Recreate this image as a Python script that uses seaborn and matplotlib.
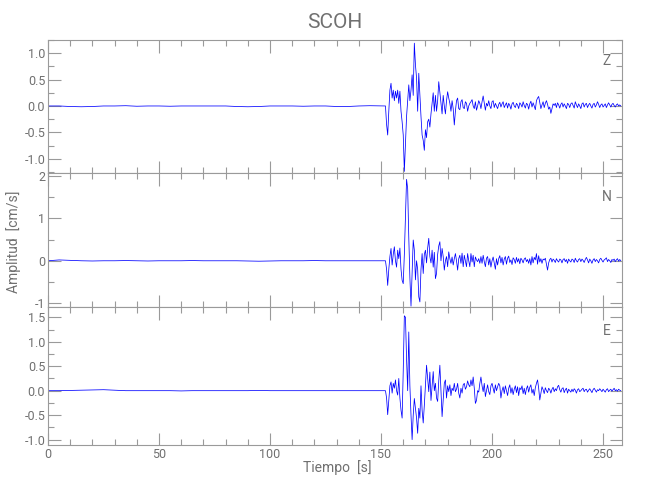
import numpy as np
import matplotlib
matplotlib.use("Agg")
import matplotlib.pyplot as plt
import seaborn as sns
from matplotlib.ticker import MultipleLocator, FormatStrFormatter

# --------------------------------------------------------------------------
# datos (velocidad en cm/s)
# --------------------------------------------------------------------------
pre_dt = 5.0       # tramo antes del evento, un valor cada 5 s desde t = 0
ev_t0 = 151.0      # inicio del tramo del evento
ev_dt = 0.5        # muestreo del tramo del evento

z_pre = [0.0, 0.0, -0.01, -0.015, -0.01, 0.0, 0.0, 0.005, -0.005, 0.0,
         0.0, -0.005, 0.0, 0.0, 0.0, 0.0, 0.0, -0.01, -0.015, -0.01,
         0.0, 0.0, 0.0, -0.005, 0.0, 0.0, -0.01, -0.01, 0.0, 0.005, 0.0]
n_pre = [0.0, 0.02, 0.01, 0.0, -0.005, 0.0, 0.0, 0.005, 0.0, -0.005,
         0.0, 0.0, 0.0, 0.005, 0.0, 0.0, 0.0, 0.0, -0.005, -0.01,
         -0.005, 0.0, 0.0, 0.0, 0.005, 0.0, 0.0, 0.0, 0.0, 0.0, 0.0]
e_pre = [0.0, 0.0, 0.005, 0.01, 0.015, 0.02, 0.01, 0.0, 0.0, 0.0,
         0.0, 0.0, -0.005, 0.0, 0.0, 0.0, 0.0, 0.0, 0.0, 0.005,
         0.0, 0.0, 0.0, 0.0, 0.0, 0.0, 0.0, 0.0, 0.0, 0.0, 0.0]

z_ev = [0.0, 0.0, 0.0, -0.35, -0.55, -0.1, 0.3, 0.43, 0.15, 0.3,
        0.1, 0.28, 0.15, 0.3, 0.05, 0.28, -0.1, -0.3, -0.55, -1.24,
        -0.74, -0.2, 0.1, 0.4, 0.1, 0.3, 0.59, 0.2, 1.19, 0.78,
        0.53, -0.1, 0.62, 0.2, -0.2, -0.55, -0.65, -0.84, -0.45, -0.6,
        -0.3, -0.25, -0.4, -0.15, 0.05, 0.25, -0.1, 0.2, -0.1, 0.1,
        0.46, 0.25, 0.05, -0.15, 0.2, 0.0, -0.15, 0.1, 0.27, 0.15,
        0.05, -0.1, 0.1, -0.05, -0.36, -0.1, 0.1, 0.15, -0.05, -0.07,
        0.08, 0.12, -0.03, -0.05, 0.08, 0.05, -0.1, 0.0, 0.05, 0.08,
        0.12, 0.0, -0.05, 0.08, -0.08, 0.0, 0.1, 0.05, -0.05, 0.08,
        0.19, 0.05, -0.08, 0.05, 0.0, 0.1, 0.0, -0.05, 0.08, 0.1,
        -0.03, 0.05, 0.0, -0.05, 0.03, 0.07, -0.02, 0.04, 0.08, -0.03,
        0.02, 0.06, -0.04, 0.05, 0.01, -0.06, 0.04, 0.07, 0.0, -0.03,
        0.05, 0.02, -0.05, 0.06, 0.03, -0.02, 0.08, 0.01, -0.04, 0.05,
        0.03, -0.06, 0.04, 0.09, -0.02, 0.06, 0.0, -0.07, 0.1, 0.15,
        0.18, 0.06, -0.05, 0.02, 0.08, -0.03, 0.05, 0.1, 0.03, -0.06,
        -0.02, -0.14, -0.05, 0.04, 0.01, 0.05, -0.03, 0.06, 0.02, -0.04,
        0.03, 0.06, -0.02, 0.04, 0.0, -0.05, 0.05, 0.03, -0.03, 0.04,
        0.06, 0.01, -0.04, 0.08, 0.02, -0.03, 0.04, 0.0, -0.05, 0.04,
        0.06, -0.02, 0.03, 0.05, -0.03, 0.02, 0.05, 0.0, -0.04, 0.03,
        0.05, -0.02, 0.02, 0.08, 0.03, -0.03, 0.02, 0.04, -0.02, 0.01,
        0.04, -0.03, 0.02, 0.06, 0.02, -0.02, 0.03, 0.05, 0.01, -0.02,
        0.02, 0.04, 0.0, 0.02, 0.0]

n_ev = [0.0, 0.0, 0.0, -0.2, -0.58, -0.2, 0.1, 0.29, -0.1, 0.15,
        0.33, 0.0, -0.15, 0.25, 0.05, 0.3, -0.2, -0.46, -0.54, 0.15,
        1.0, 1.92, 1.7, 0.55, -0.4, -1.07, -0.25, 0.49, 0.25, -0.45,
        0.0, -0.2, -0.85, -0.97, -0.2, 0.17, -0.3, 0.15, 0.25, -0.05,
        0.3, 0.53, 0.1, -0.05, 0.25, -0.15, 0.2, -0.42, -0.3, 0.15,
        0.35, 0.45, 0.0, 0.29, 0.1, -0.22, 0.0, 0.1, -0.14, 0.21,
        0.05, -0.06, 0.09, -0.1, 0.05, 0.17, 0.0, -0.22, 0.05, 0.13,
        -0.06, 0.18, -0.14, 0.13, 0.0, -0.14, 0.17, 0.0, -0.14, 0.17,
        -0.03, 0.13, -0.14, 0.09, 0.02, -0.02, 0.05, -0.06, 0.1, -0.06,
        0.13, -0.02, -0.14, 0.06, 0.1, -0.1, 0.05, -0.15, 0.0, 0.09,
        -0.05, -0.2, 0.05, -0.1, 0.05, 0.12, -0.05, 0.08, -0.1, 0.04,
        0.1, -0.08, 0.06, 0.11, -0.04, 0.02, -0.09, 0.07, 0.03, -0.06,
        0.08, -0.03, 0.05, -0.07, 0.06, 0.02, -0.05, 0.04, 0.07, -0.02,
        0.03, -0.06, 0.05, -0.1, 0.1, -0.05, 0.08, 0.02, 0.17, -0.08,
        0.12, -0.03, 0.05, -0.06, 0.04, 0.02, 0.06, -0.08, -0.22, -0.05,
        0.03, 0.06, -0.03, 0.04, 0.01, -0.04, 0.05, 0.0, -0.03, 0.04,
        0.02, -0.05, 0.03, 0.05, -0.02, 0.03, -0.06, 0.04, 0.0, -0.03,
        0.04, 0.02, -0.04, 0.06, 0.0, -0.03, 0.03, 0.05, -0.02, 0.04,
        0.01, -0.04, 0.03, 0.08, 0.02, -0.05, 0.04, 0.0, -0.06, 0.02,
        0.05, -0.02, 0.03, 0.0, -0.05, 0.03, 0.06, 0.01, -0.03, 0.02,
        0.04, 0.07, -0.02, 0.03, 0.0, -0.04, 0.03, 0.01, 0.04, -0.02,
        0.02, 0.05, -0.01, 0.03, 0.0]

e_ev = [0.0, 0.0, 0.0, -0.15, -0.49, -0.2, 0.1, 0.18, -0.05, 0.15,
        0.05, 0.22, 0.0, -0.09, 0.25, -0.15, -0.4, -0.56, 0.4, 1.53,
        1.5, 0.65, 0.0, 1.2, 0.1, -0.5, -1.0, -0.5, -0.16, -0.36,
        -0.56, -0.87, -0.36, -0.56, 0.1, -0.4, -0.66, -0.3, 0.1, 0.52,
        0.25, -0.02, 0.38, -0.2, 0.1, 0.39, 0.0, 0.15, -0.15, -0.22,
        0.2, 0.52, -0.02, -0.53, -0.2, 0.15, 0.22, -0.15, 0.1, -0.02,
        0.12, -0.1, 0.05, 0.0, 0.15, -0.02, 0.03, 0.15, -0.05, -0.15,
        0.05, -0.05, 0.12, 0.15, 0.03, 0.08, 0.2, 0.12, 0.08, 0.22,
        0.1, 0.28, 0.05, -0.26, -0.2, 0.0, -0.03, 0.15, 0.28, 0.1,
        -0.02, 0.15, -0.12, 0.0, 0.12, -0.02, -0.08, 0.1, 0.15, 0.05,
        -0.05, 0.12, 0.0, 0.08, 0.15, 0.1, -0.15, 0.0, 0.08, -0.06,
        0.1, 0.0, -0.1, 0.05, 0.12, -0.05, 0.06, -0.08, 0.03, 0.1,
        -0.04, 0.08, -0.1, 0.06, 0.02, 0.1, -0.06, 0.05, -0.08, 0.04,
        0.1, -0.03, 0.07, 0.12, -0.05, 0.03, -0.1, 0.06, 0.15, 0.22,
        0.05, -0.19, -0.05, 0.08, 0.02, -0.06, 0.06, 0.0, -0.04, 0.05,
        0.02, -0.05, 0.03, 0.07, -0.02, 0.04, 0.0, 0.08, 0.11, 0.02,
        -0.03, 0.04, 0.06, -0.04, 0.02, 0.05, -0.05, 0.03, 0.0, -0.03,
        0.03, -0.02, 0.04, 0.01, -0.05, 0.02, 0.04, -0.02, 0.0, 0.03,
        0.05, -0.02, 0.02, 0.03, -0.03, 0.01, 0.04, 0.0, -0.04, 0.02,
        0.05, 0.01, -0.03, 0.02, 0.0, 0.04, 0.01, -0.02, 0.03, 0.0,
        -0.03, 0.02, 0.04, -0.02, 0.01, 0.03, -0.01, 0.02, 0.05, 0.0,
        0.02, -0.01, 0.03, 0.01, 0.0]

componentes = ["Z", "N", "E"]
trazas = [(z_pre, z_ev), (n_pre, n_ev), (e_pre, e_ev)]
y_limites = [(-1.27, 1.25), (-1.09, 2.07), (-1.11, 1.71)]
y_mayor = [0.5, 1.0, 0.5]
y_menor = [0.25, 0.5, 0.25]
y_formato = ["%.1f", "%d", "%.1f"]
x_max = 258.4

# --------------------------------------------------------------------------
# estilo
# --------------------------------------------------------------------------
sns.set_style("ticks")
plt.rcParams["font.family"] = ["Roboto", "DejaVu Sans"]
plt.rcParams["font.weight"] = "normal"
gris_eje = "#9a9a9a"
gris_txt = "#707070"

fig = plt.figure(figsize=(6.5, 5.0), dpi=100)

# posiciones de los 3 paneles (figura 650x500)
izq, ancho = 48 / 650, 573.7 / 650
bordes = [40, 173, 307, 445]

for i, comp in enumerate(componentes):
    y0 = 1 - bordes[i + 1] / 500
    alto = (bordes[i + 1] - bordes[i]) / 500
    ax = fig.add_axes([izq, y0, ancho, alto])

    pre, ev = trazas[i]
    t = np.concatenate([np.arange(len(pre)) * pre_dt,
                        ev_t0 + np.arange(len(ev)) * ev_dt])
    v = np.concatenate([pre, ev])
    sns.lineplot(x=t, y=v, ax=ax, color="#0000ff", lw=0.55,
                 estimator=None, sort=False)

    ax.set_xlim(0, x_max)
    ax.set_ylim(*y_limites[i])
    ax.xaxis.set_major_locator(MultipleLocator(50))
    ax.xaxis.set_minor_locator(MultipleLocator(10))
    ax.yaxis.set_major_locator(MultipleLocator(y_mayor[i]))
    ax.yaxis.set_minor_locator(MultipleLocator(y_menor[i]))
    ax.yaxis.set_major_formatter(FormatStrFormatter(y_formato[i]))

    ax.tick_params(which="both", direction="in", top=True, right=True,
                   color=gris_eje, labelcolor=gris_txt, labelsize=9, width=0.8)
    ax.tick_params(which="major", length=9, pad=2)
    ax.tick_params(which="minor", length=4.5)
    if i < 2:
        ax.tick_params(labelbottom=False)
    for s in ax.spines.values():
        s.set_color(gris_eje)
        s.set_linewidth(0.8)
    ax.set_xlabel("")
    ax.set_ylabel("")

    ax.text(0.974, [0.842, 0.823, 0.828][i], comp, transform=ax.transAxes,
            ha="center", va="center", fontsize=10, color=gris_txt)

fig.text(335 / 650, 1 - 22 / 500, "SCOH", ha="center", va="center",
         fontsize=15, color=gris_txt)
fig.text(337 / 650, 1 - 468 / 500, "Tiempo  [s]", ha="center", va="center",
         fontsize=10, color=gris_txt)
fig.text(14 / 650, 1 - 242 / 500, "Amplitud  [cm/s]", ha="center",
         va="center", rotation=90, fontsize=10, color=gris_txt)

fig.savefig("out.png", dpi=100)
